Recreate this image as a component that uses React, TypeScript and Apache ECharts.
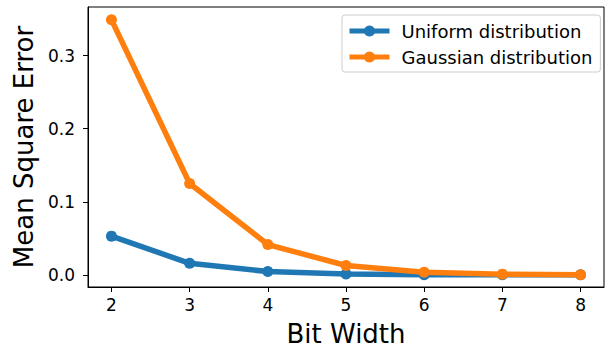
import React, { useEffect, useRef } from "react";
import * as echarts from "echarts";

const bitWidths = [2, 3, 4, 5, 6, 7, 8];
const uniformMSE = [0.053, 0.0158, 0.0045, 0.0012, 0.0003, 0.0001, 0.00002];
const gaussianMSE = [0.349, 0.125, 0.0415, 0.0128, 0.0037, 0.001, 0.0003];
const yTicks = [0, 0.1, 0.2, 0.3];

export default function App() {
  const ref = useRef<HTMLDivElement>(null);
  useEffect(() => {
    const chart = echarts.init(ref.current!, null, { renderer: "svg" });
    const font = "DejaVu Sans";
    const mk = (name: string, vals: number[], color: string) => ({
      name,
      type: "line",
      data: bitWidths.map((b, i) => [b, vals[i]]),
      symbol: "circle",
      symbolSize: 11,
      lineStyle: { width: 5.5, color },
      itemStyle: { color },
      z: name.startsWith("G") ? 3 : 2,
    });
    chart.setOption({
      animation: false,
      textStyle: { fontFamily: font },
      grid: {
        left: 88,
        top: 7,
        right: 3,
        bottom: 63,
        containLabel: false,
        outerBoundsMode: "none",
        show: true,
        borderColor: "#000",
        borderWidth: 1,
        backgroundColor: "transparent",
      },
      legend: {
        orient: "vertical",
        left: 342,
        top: 15,
        padding: [7, 8, 6, 5],
        itemWidth: 40,
        itemHeight: 14,
        itemGap: 8,
        borderColor: "#cccccc",
        borderWidth: 1,
        borderRadius: 3,
        backgroundColor: "rgba(255,255,255,0.8)",
        lineStyle: { width: 5 },
        textStyle: { fontSize: 18, lineHeight: 18, color: "#000", fontFamily: font, padding: [0, 0, 0, 7] },
        data: ["Uniform distribution", "Gaussian distribution"],
      },
      xAxis: {
        type: "value",
        min: 1.7,
        max: 8.3,
        name: "Bit Width",
        nameLocation: "middle",
        nameGap: 34,
        nameTextStyle: { fontSize: 26, color: "#000", fontFamily: font },
        axisLine: { show: true, onZero: false, lineStyle: { color: "#000", width: 1 } },
        axisTick: { show: true, length: 5, lineStyle: { color: "#000" }, customValues: bitWidths },
        axisLabel: { color: "#000", fontSize: 17, margin: 9, customValues: bitWidths, fontFamily: font },
        splitLine: { show: false },
      },
      yAxis: {
        type: "value",
        min: -0.0166,
        max: 0.3665,
        name: "Mean Square Error",
        nameLocation: "middle",
        nameGap: 47,
        nameTextStyle: { fontSize: 26, color: "#000", fontFamily: font },
        axisLine: { show: true, onZero: false, lineStyle: { color: "#000", width: 1 } },
        axisTick: { show: true, length: 5, lineStyle: { color: "#000" }, customValues: yTicks },
        axisLabel: {
          color: "#000",
          fontSize: 17,
          margin: 13,
          customValues: yTicks,
          fontFamily: font,
          formatter: (v: number) => v.toFixed(1),
        },
        splitLine: { show: false },
      },
      series: [
        mk("Uniform distribution", uniformMSE, "#1f77b4"),
        mk("Gaussian distribution", gaussianMSE, "#ff7f0e"),
      ],
    });
    return () => chart.dispose();
  }, []);
  return <div ref={ref} style={{ width: 607, height: 350, position: "absolute", left: 0, top: 0 }} />;
}
